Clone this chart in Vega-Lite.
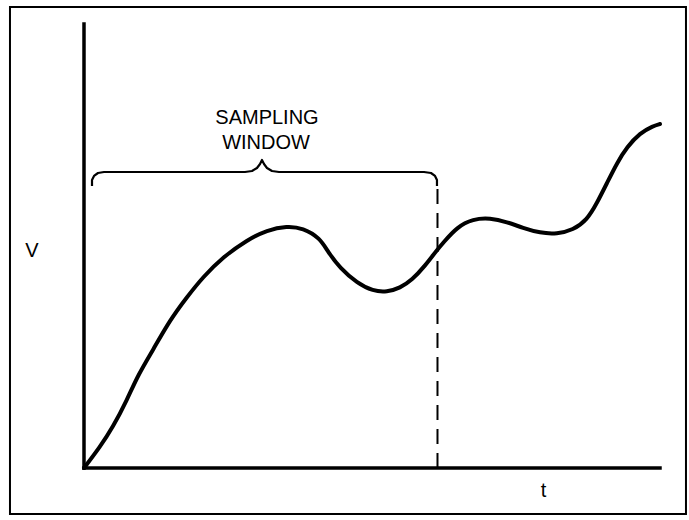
{
  "$schema": "https://vega.github.io/schema/vega-lite/v6.json",
  "width": 689,
  "height": 520,
  "autosize": {"type": "fit", "contains": "padding"},
  "padding": 0,
  "background": "white",
  "config": {"view": {"stroke": null}},
  "datasets": {
    "curve": [
      {"t": 0.0, "V": 0.0}, {"t": 0.278, "V": 0.473}, {"t": 0.503, "V": 0.923}, {"t": 0.747, "V": 1.532},
      {"t": 0.9375, "V": 2.095}, {"t": 1.198, "V": 2.658}, {"t": 1.493, "V": 3.333}, {"t": 1.788, "V": 3.851},
      {"t": 2.066, "V": 4.302}, {"t": 2.413, "V": 4.752}, {"t": 2.83, "V": 5.135}, {"t": 3.177, "V": 5.36},
      {"t": 3.524, "V": 5.45}, {"t": 3.802, "V": 5.405}, {"t": 4.097, "V": 5.18}, {"t": 4.236, "V": 4.865},
      {"t": 4.444, "V": 4.505}, {"t": 4.74, "V": 4.167}, {"t": 5.017, "V": 3.986}, {"t": 5.26, "V": 3.964},
      {"t": 5.486, "V": 4.054}, {"t": 5.694, "V": 4.234}, {"t": 5.92, "V": 4.55}, {"t": 6.128, "V": 4.91},
      {"t": 6.233, "V": 5.068}, {"t": 6.476, "V": 5.428}, {"t": 6.753, "V": 5.608}, {"t": 7.049, "V": 5.631},
      {"t": 7.344, "V": 5.541}, {"t": 7.622, "V": 5.405}, {"t": 7.917, "V": 5.293}, {"t": 8.212, "V": 5.27},
      {"t": 8.49, "V": 5.36}, {"t": 8.733, "V": 5.586}, {"t": 8.906, "V": 5.968}, {"t": 9.08, "V": 6.419},
      {"t": 9.253, "V": 6.869}, {"t": 9.427, "V": 7.23}, {"t": 9.653, "V": 7.545}, {"t": 9.878, "V": 7.703},
      {"t": 10.0, "V": 7.748}
    ],
    "brace": [
      {"i": 0, "t": 0.139, "V": 6.351}, {"i": 1, "t": 0.139, "V": 6.486}, {"i": 2, "t": 0.174, "V": 6.577},
      {"i": 3, "t": 0.243, "V": 6.644}, {"i": 4, "t": 0.347, "V": 6.667}, {"i": 5, "t": 2.795, "V": 6.667},
      {"i": 6, "t": 2.917, "V": 6.689}, {"i": 7, "t": 3.003, "V": 6.757}, {"i": 8, "t": 3.056, "V": 6.847},
      {"i": 9, "t": 3.09, "V": 6.937}, {"i": 10, "t": 3.125, "V": 6.847}, {"i": 11, "t": 3.177, "V": 6.757},
      {"i": 12, "t": 3.264, "V": 6.689}, {"i": 13, "t": 3.385, "V": 6.667}, {"i": 14, "t": 5.903, "V": 6.667},
      {"i": 15, "t": 6.024, "V": 6.644}, {"i": 16, "t": 6.094, "V": 6.577}, {"i": 17, "t": 6.128, "V": 6.486},
      {"i": 18, "t": 6.128, "V": 6.351}
    ],
    "axes": [
      {"t": 0, "t2": 0, "V": 0, "V2": 10},
      {"t": 0, "t2": 10, "V": 0, "V2": 0}
    ],
    "window": [{"t": 6.137, "V": 0, "V2": 6.374}],
    "frame": [{"t": -1.285, "t2": 10.451, "V": -1.036, "V2": 10.383}],
    "labels": [
      {"label": "SAMPLING", "t": 3.177, "V": 7.748},
      {"label": "WINDOW", "t": 3.16, "V": 7.185},
      {"label": "V", "t": -0.903, "V": 4.752},
      {"label": "t", "t": 7.977, "V": -0.653}
    ]
  },
  "layer": [
    {
      "data": {"name": "frame"},
      "mark": {"type": "rect", "fillOpacity": 0, "stroke": "black", "strokeWidth": 2},
      "encoding": {
        "x": {"field": "t", "type": "quantitative", "scale": {"domain": [-1.4583, 10.5035], "nice": false, "zero": false}, "axis": null},
        "x2": {"field": "t2"},
        "y": {"field": "V", "type": "quantitative", "scale": {"domain": [-1.1712, 10.5405], "nice": false, "zero": false}, "axis": null},
        "y2": {"field": "V2"}
      }
    },
    {
      "data": {"name": "axes"},
      "mark": {"type": "rule", "color": "black", "strokeWidth": 3.5, "strokeCap": "square"},
      "encoding": {
        "x": {"field": "t", "type": "quantitative"},
        "x2": {"field": "t2"},
        "y": {"field": "V", "type": "quantitative"},
        "y2": {"field": "V2"}
      }
    },
    {
      "data": {"name": "window"},
      "mark": {"type": "rule", "color": "black", "strokeWidth": 2, "strokeDash": [15, 9]},
      "encoding": {
        "x": {"field": "t", "type": "quantitative"},
        "y": {"field": "V", "type": "quantitative"},
        "y2": {"field": "V2"}
      }
    },
    {
      "data": {"name": "brace"},
      "mark": {"type": "line", "color": "black", "strokeWidth": 2.2, "strokeJoin": "round"},
      "encoding": {
        "x": {"field": "t", "type": "quantitative"},
        "y": {"field": "V", "type": "quantitative"},
        "order": {"field": "i", "type": "quantitative"}
      }
    },
    {
      "data": {"name": "curve"},
      "mark": {"type": "line", "color": "black", "strokeWidth": 4, "interpolate": "basis", "strokeCap": "round"},
      "encoding": {
        "x": {"field": "t", "type": "quantitative"},
        "y": {"field": "V", "type": "quantitative"}
      }
    },
    {
      "data": {"name": "labels"},
      "mark": {"type": "text", "font": "Liberation Sans", "fontSize": 20, "align": "center", "baseline": "alphabetic", "color": "black"},
      "encoding": {
        "x": {"field": "t", "type": "quantitative"},
        "y": {"field": "V", "type": "quantitative"},
        "text": {"field": "label"}
      }
    }
  ]
}
